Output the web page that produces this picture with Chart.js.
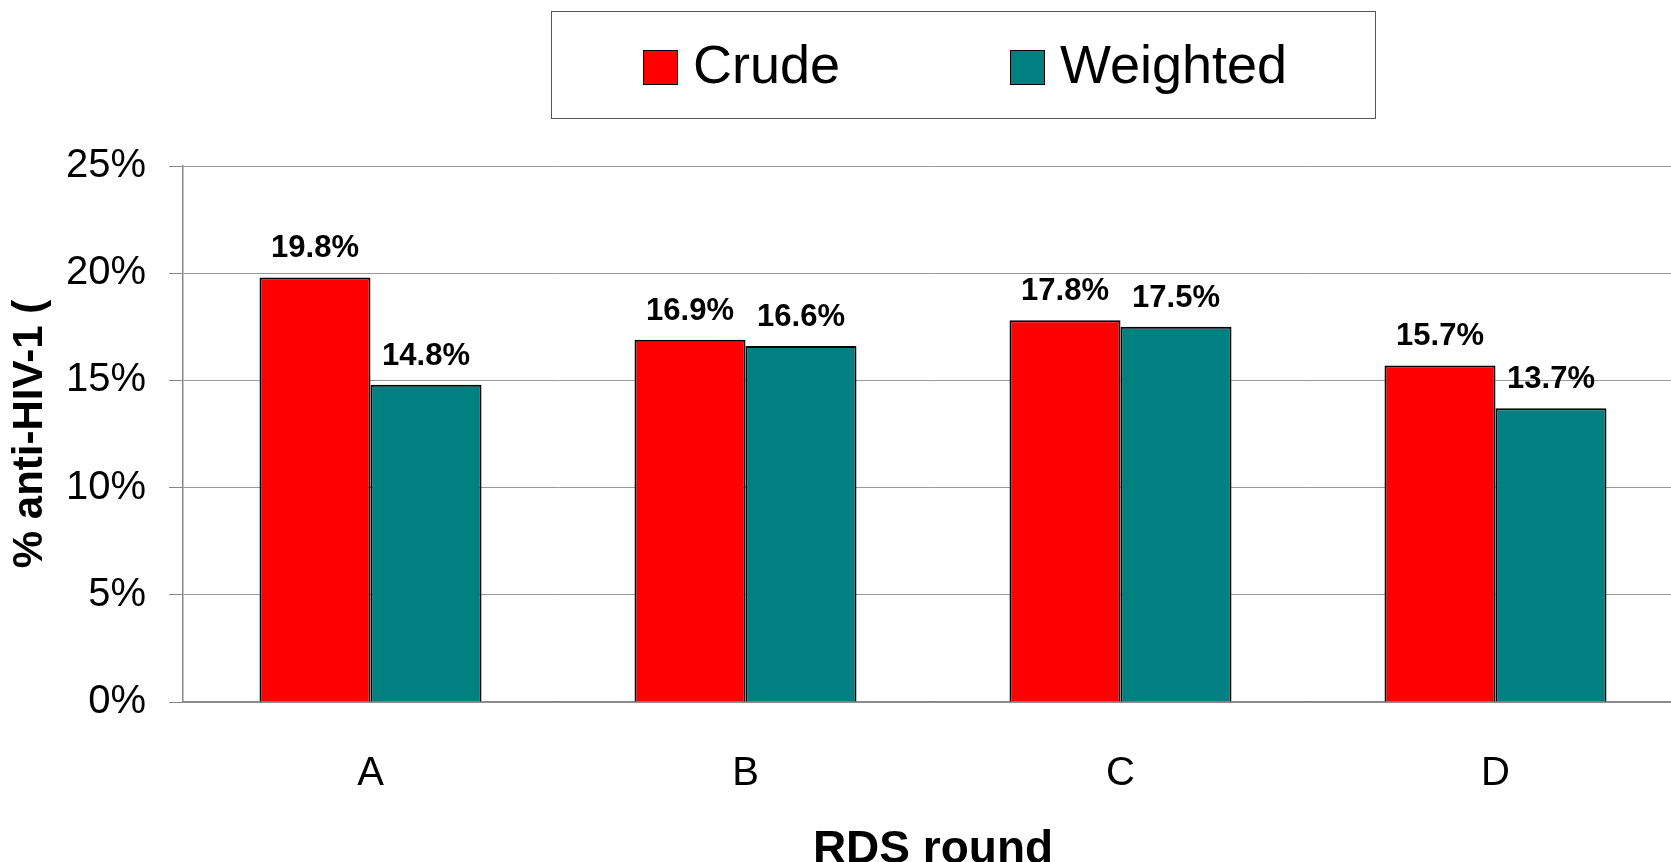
<!DOCTYPE html>
<html>
<head>
<meta charset="utf-8">
<script src="https://cdn.jsdelivr.net/npm/chart.js@4"></script>
<style>
  html, body { margin: 0; padding: 0; background: #fff; overflow: hidden; }
  #frame { width: 1671px; height: 862px; overflow: hidden; position: relative; }
  #box { width: 1700px; height: 880px; position: absolute; left: 0; top: 0; }
</style>
</head>
<body>
<div id="frame"><div id="box"><canvas id="hivChart"></canvas></div></div>
<script>
// data
const rounds = ['A', 'B', 'C', 'D'];
const crude = [19.8, 16.9, 17.8, 15.7];
const weighted = [14.8, 16.6, 17.5, 13.7];
const yTicks = [0, 5, 10, 15, 20, 25];

const FONT = "'Liberation Sans', Arial, sans-serif";

// value labels above each bar
const barLabels = {
    id: 'barLabels',
    afterDatasetsDraw(chart) {
        const ctx = chart.ctx;
        ctx.save();
        ctx.font = 'bold 31px ' + FONT;
        ctx.fillStyle = '#000';
        ctx.textAlign = 'center';
        ctx.textBaseline = 'alphabetic';
        chart.data.datasets.forEach((ds, i) => {
            chart.getDatasetMeta(i).data.forEach((bar, j) => {
                ctx.fillText(ds.data[j].toFixed(1) + '%', bar.x, bar.y - 20);
            });
        });
        ctx.restore();
    }
};

// framed legend at the top
const boxLegend = {
    id: 'boxLegend',
    afterDraw(chart) {
        const ctx = chart.ctx;
        ctx.save();
        ctx.strokeStyle = '#555';
        ctx.lineWidth = 1;
        ctx.strokeRect(551.5, 11.5, 824, 107);
        const itemX = [643, 1010];
        ctx.font = '54px ' + FONT;
        ctx.textBaseline = 'middle';
        ctx.textAlign = 'left';
        chart.data.datasets.forEach((ds, i) => {
            ctx.fillStyle = ds.backgroundColor;
            ctx.fillRect(itemX[i], 50, 35, 35);
            ctx.strokeStyle = '#000';
            ctx.strokeRect(itemX[i] + 0.5, 50.5, 34, 34);
            ctx.fillStyle = '#000';
            ctx.fillText(ds.label, itemX[i] + 50, 68);
        });
        ctx.restore();
    }
};

const ctx = document.getElementById('hivChart').getContext('2d');
const hivChart = new Chart(ctx, {
    type: 'bar',
    data: {
        labels: rounds,
        datasets: [{
            label: 'Crude',
            data: crude,
            backgroundColor: '#FF0000',
            borderColor: '#000',
            borderWidth: 2
        }, {
            label: 'Weighted',
            data: weighted,
            backgroundColor: '#008080',
            borderColor: '#000',
            borderWidth: 2
        }]
    },
    options: {
        responsive: true,
        maintainAspectRatio: false,
        animation: false,
        layout: { padding: { top: 166, right: 17, left: 0, bottom: 0 } },
        datasets: {
            bar: { categoryPercentage: 0.592, barPercentage: 1 }
        },
        plugins: {
            legend: { display: false },
            tooltip: { enabled: false }
        },
        scales: {
            x: {
                grid: { display: false, drawTicks: false },
                border: { display: true, color: '#888', width: 1.5 },
                ticks: { color: '#000', font: { family: FONT, size: 40 }, padding: 48 },
                title: {
                    display: true,
                    text: 'RDS round',
                    color: '#000',
                    font: { family: FONT, size: 46, weight: 'bold' },
                    padding: { top: 0, bottom: 2 }
                },
                afterFit(scale) { scale.height = 178; }
            },
            y: {
                min: 0,
                max: 25,
                afterBuildTicks(scale) { scale.ticks = yTicks.map(v => ({ value: v })); },
                grid: {
                    color: '#999',
                    lineWidth: 1,
                    borderDash: [2, 2],
                    tickLength: 14,
                    tickColor: '#888',
                    tickBorderDash: []
                },
                border: { display: true, color: '#888', width: 1.5 },
                ticks: {
                    color: '#000',
                    font: { family: FONT, size: 40 },
                    padding: 23,
                    callback: v => v + '%'
                },
                title: {
                    display: true,
                    text: '% anti-HIV-1 (',
                    color: '#000',
                    font: { family: FONT, size: 42, weight: 'bold' },
                    padding: { top: 5, bottom: 0 }
                },
                afterFit(scale) { scale.width = 183; }
            }
        }
    },
    plugins: [barLabels, boxLegend]
});
</script>
</body>
</html>
